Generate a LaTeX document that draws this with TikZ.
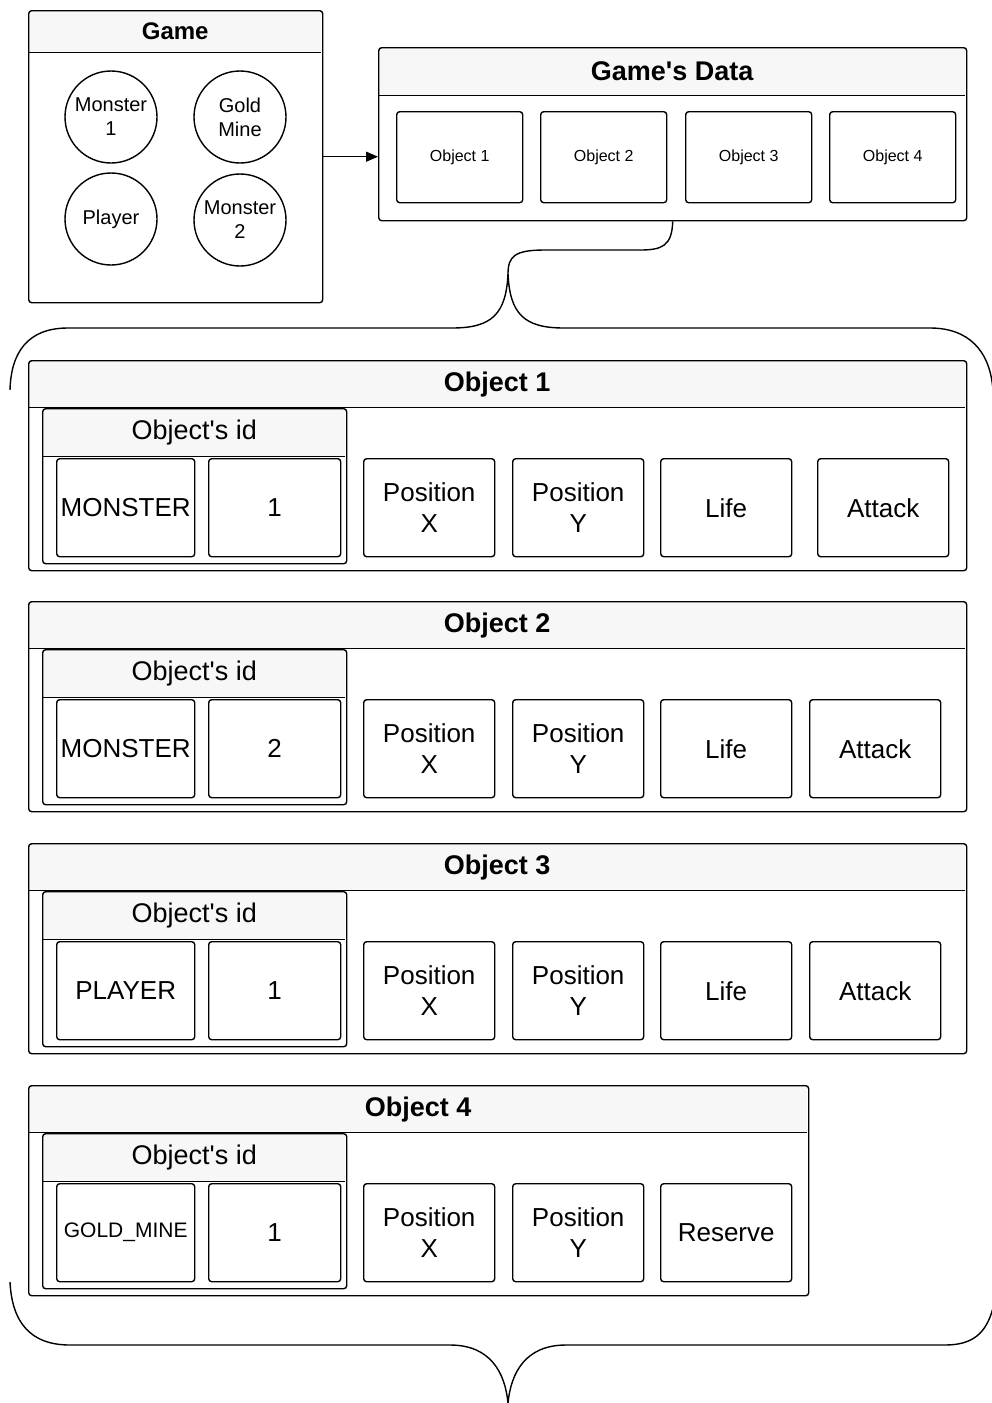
\documentclass[tikz,border=0pt]{standalone}
\usepackage{fontspec}
\setmainfont{Liberation Sans}
\usetikzlibrary{arrows.meta}

\newcommand{\headfont}{\fontsize{27}{31}\selectfont\bfseries}
\newcommand{\gamefont}{\fontsize{24}{28}\selectfont\bfseries}
\newcommand{\idfont}{\fontsize{27}{31}\selectfont}
\newcommand{\cellfont}{\fontsize{26}{31}\selectfont}
\newcommand{\smallfont}{\fontsize{16}{19}\selectfont}
\newcommand{\roundfont}{\fontsize{20}{24}\selectfont}
\newcommand{\apos}{\textquotesingle}

\tikzset{
  frame/.style={draw, line width=1.4pt, rounded corners=3pt, anchor=north west, inner sep=0pt},
  head/.style={fill=gray!6, anchor=north west, inner sep=0pt},
  cell/.style={draw, line width=1.4pt, rounded corners=3pt, anchor=north west,
               inner sep=0pt, align=center, font=\cellfont},
  mini/.style={cell, font=\smallfont, minimum width=126, minimum height=91},
  entity/.style={draw, circle, line width=1.4pt, minimum size=92, inner sep=0pt,
                 align=center, font=\roundfont},
  rule/.style={line width=1.4pt},
  brace/.style={line width=1.4pt},
}

% One object record: frame, title bar, the id sub-record with its two fields
% #1 name, #2 top edge, #3 width, #4 title, #5 kind, #6 number
\newcommand{\ObjPanel}[6]{%
  \node[head, minimum width=#3-2, minimum height=46, font=\headfont] (#1h) at (29,{#2+1}) {#4};
  \draw[rule] (#1h.south west) -- (#1h.south east);
  \node[frame, minimum width=#3, minimum height=210] (#1) at (28,#2) {};
  \node[head, minimum width=302, minimum height=47, font=\idfont] (#1idh) at (43,{#2+49}) {Object\apos s id};
  \draw[rule] (#1idh.south west) -- (#1idh.south east);
  \node[frame, minimum width=304, minimum height=155] (#1id) at (42,{#2+48}) {};
  \node[cell, minimum width=138, minimum height=98] (#1kind) at (56,{#2+98}) {#5};
  \node[cell, minimum width=132, minimum height=98] (#1num) at (208,{#2+98}) {#6};
  \node[cell, minimum width=131, minimum height=98] (#1px) at (363,{#2+98}) {Position\\X};
  \node[cell, minimum width=131, minimum height=98] (#1py) at (512,{#2+98}) {Position\\Y};
}

\begin{document}
\begin{tikzpicture}[x=1pt, y=-1pt]
\useasboundingbox (0,0) rectangle (992,1403);

% ---- Game ----
\node[head, minimum width=292, minimum height=41, font=\gamefont] (gameh) at (29,11) {Game};
\draw[rule] (gameh.south west) -- (gameh.south east);
\node[frame, minimum width=294, minimum height=292] (game) at (28,10) {};
\node[entity] (m1) at (111,117) {Monster\\1};
\node[entity] (gold) at (240,117) {Gold\\Mine};
\node[entity] (player) at (111,219) {Player};
\node[entity] (m2) at (240,220) {Monster\\2};

% ---- Game's Data ----
\node[head, minimum width=586, minimum height=47, font=\headfont] (datah) at (379,48) {Game\apos s Data};
\draw[rule] (datah.south west) -- (datah.south east);
\node[frame, minimum width=588, minimum height=173] (data) at (378,47) {};
\node[mini] (d1) at (396,111) {Object 1};
\node[mini] (d2) at (540,111) {Object 2};
\node[mini] (d3) at (685,111) {Object 3};
\node[mini] (d4) at (829,111) {Object 4};

\draw[line width=1.4pt, -{Triangle[length=12pt,width=10pt]}] (game.east) -- (data.west |- game.east);

% ---- brace opening the detail ----
\coordinate (tiptop) at (508,274);
\draw[brace] (data.south) .. controls (672,246) and (662,250) .. (640,250)
  -- (545,250) .. controls (515,250) and (508,256) .. (tiptop);
\draw[brace] (tiptop) .. controls (506,314) and (492,328) .. (452,328)
  -- (68,328) .. controls (28,328) and (11,352) .. (10,390);
\draw[brace] (tiptop) .. controls (510,314) and (524,328) .. (564,328)
  -- (930,328) .. controls (968,328) and (990,350) .. (993,390);

% ---- object records ----
\ObjPanel{oa}{360}{938}{Object 1}{MONSTER}{1}
\node[cell, minimum width=131, minimum height=98] (oalife) at (660,458) {Life};
\node[cell, minimum width=131, minimum height=98] (oaatk) at (817,458) {Attack};

\ObjPanel{ob}{601}{938}{Object 2}{MONSTER}{2}
\node[cell, minimum width=131, minimum height=98] (oblife) at (660,699) {Life};
\node[cell, minimum width=131, minimum height=98] (obatk) at (809,699) {Attack};

\ObjPanel{oc}{843}{938}{Object 3}{PLAYER}{1}
\node[cell, minimum width=131, minimum height=98] (oclife) at (660,941) {Life};
\node[cell, minimum width=131, minimum height=98] (ocatk) at (809,941) {Attack};

\ObjPanel{od}{1085}{780}{Object 4}{{\fontsize{21}{25}\selectfont GOLD\_MINE}}{1}
\node[cell, minimum width=131, minimum height=98] (odres) at (660,1183) {Reserve};

% ---- brace closing the detail ----
\coordinate (tipbot) at (508,1403);
\draw[brace] (10,1282) .. controls (12,1322) and (30,1345) .. (70,1345)
  -- (450,1345) .. controls (490,1345) and (505,1372) .. (tipbot);
\draw[brace] (993,1308) .. controls (986,1334) and (972,1345) .. (945,1345)
  -- (566,1345) .. controls (526,1345) and (511,1372) .. (tipbot);

\end{tikzpicture}
\end{document}
